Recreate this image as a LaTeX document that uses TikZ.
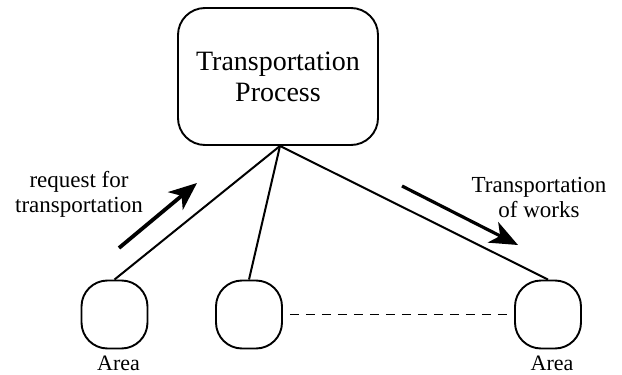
\documentclass[tikz,border=0pt]{standalone}
\usepackage{fontspec}
\setmainfont{Liberation Serif}
\usetikzlibrary{arrows.meta}
\begin{document}
\begin{tikzpicture}[x=1pt,y=-1pt,
  proc/.style={draw, line width=1.9pt, rounded corners=27pt, minimum width=200pt,
    minimum height=137pt, inner sep=0pt, align=center,
    font=\fontsize{28}{31}\selectfont},
  area/.style={draw, line width=1.9pt, rounded corners=26pt, minimum width=66pt,
    minimum height=68pt, inner sep=0pt},
  lbl/.style={align=center, inner sep=0pt, font=\fontsize{23}{25}\selectfont},
  arealbl/.style={anchor=base, inner sep=0pt, font=\fontsize{22}{24}\selectfont},
  link/.style={line width=2pt},
  peer/.style={line width=1.4pt, dash pattern=on 9pt off 7pt},
  flow/.style={line width=3.8pt, -{Stealth[length=28pt,width=23pt,inset=8pt]}}
]
\useasboundingbox (0,0) rectangle (622,375);

% central process and the areas it serves
\node[proc] (proc) at (278,76.5) {Transportation\\Process};
\coordinate (hub) at ([xshift=2pt]proc.south);

\node[area] (a1) at (114.5,314.5) {};
\node[area] (a2) at (249,314.5) {};
\node[area] (a3) at (548,314.5) {};

% links from the process to each area
\draw[link] (hub) -- (a1.north);
\draw[link] (hub) -- (a2.north);
\draw[link] (hub) -- (a3.north);

% further areas in between
\draw[peer] ([xshift=7pt]a2.east) -- ([xshift=-7pt]a3.west);

% flow arrows
\coordinate (reqA) at (119,248);
\coordinate (reqB) at (197,183);
\draw[flow] (reqA) -- (reqB);
\coordinate (workA) at (402,186);
\coordinate (workB) at (518,245);
\draw[flow, line width=3.2pt] (workA) -- (workB);

% labels
\node[lbl] (reqtxt) at (79,194) {request for\\transportation};
\node[lbl] (worktxt) at (539,197.6) {Transportation\\of works};
\node[arealbl] (l1) at (118.5,370) {Area};
\node[arealbl] (l3) at (552,370) {Area};
\end{tikzpicture}
\end{document}
